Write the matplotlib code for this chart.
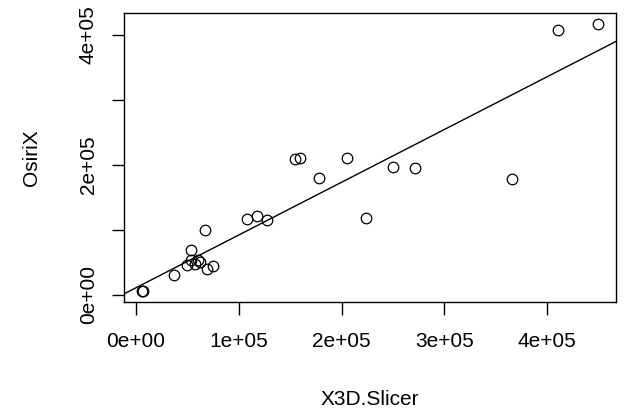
import matplotlib
matplotlib.use("Agg")
import matplotlib.pyplot as plt
import numpy as np

# volumes measured by the two tools
slicer = [6300, 6000, 36500, 49500, 53400, 53300, 57000, 59800, 61700, 66600,
          68500, 74700, 108300, 117500, 127200, 154200, 159400, 177800, 204700,
          223400, 249900, 270900, 365300, 410900, 449100]
osirix = [6200, 5800, 31000, 45600, 53200, 69000, 48000, 54300, 50200, 99400,
          40000, 45100, 116900, 122000, 114800, 209200, 210300, 180500, 210800,
          118500, 197400, 195400, 178500, 407200, 417400]
# regression line: intercept, slope
line_a = 11200
line_b = 0.811

xticks = [0, 1e5, 2e5, 3e5, 4e5]
yticks = [0, 1e5, 2e5, 3e5, 4e5]
xticklabels = ['0e+00', '1e+05', '2e+05', '3e+05', '4e+05']
yticklabels = ['0e+00', '', '2e+05', '', '4e+05']

plt.rcParams['font.family'] = ['Liberation Sans', 'DejaVu Sans']

fig = plt.figure(figsize=(6.33, 4.13), dpi=100)
ax = fig.add_axes([0.196, 0.269, 0.777, 0.700])

x = np.array(slicer)
y = np.array(osirix)
ax.plot(x, y, 'o', markerfacecolor='none', markeredgecolor='black',
        markersize=7.6, markeredgewidth=0.9)

xr = (x.max() - x.min()) * 0.04
yr = (y.max() - y.min()) * 0.04
ax.set_xlim(x.min() - xr, x.max() + xr)
ax.set_ylim(y.min() - yr, y.max() + yr)

xs = np.array(ax.get_xlim())
ax.plot(xs, line_a + line_b * xs, color='black', linewidth=1.0)

ax.set_xticks(xticks)
ax.set_xticklabels(xticklabels, fontsize=15)
ax.set_yticks(yticks)
ax.set_yticklabels(yticklabels, fontsize=15, rotation=90, va='center')
ax.tick_params(direction='out', length=9, width=1.0, pad=13)
ax.tick_params(axis='y', pad=10)
for s in ax.spines.values():
    s.set_linewidth(1.0)

ax.set_xlabel('X3D.Slicer', fontsize=15, labelpad=28)
ax.set_ylabel('OsiriX', fontsize=15, labelpad=27)

fig.savefig('out.png', dpi=100)
